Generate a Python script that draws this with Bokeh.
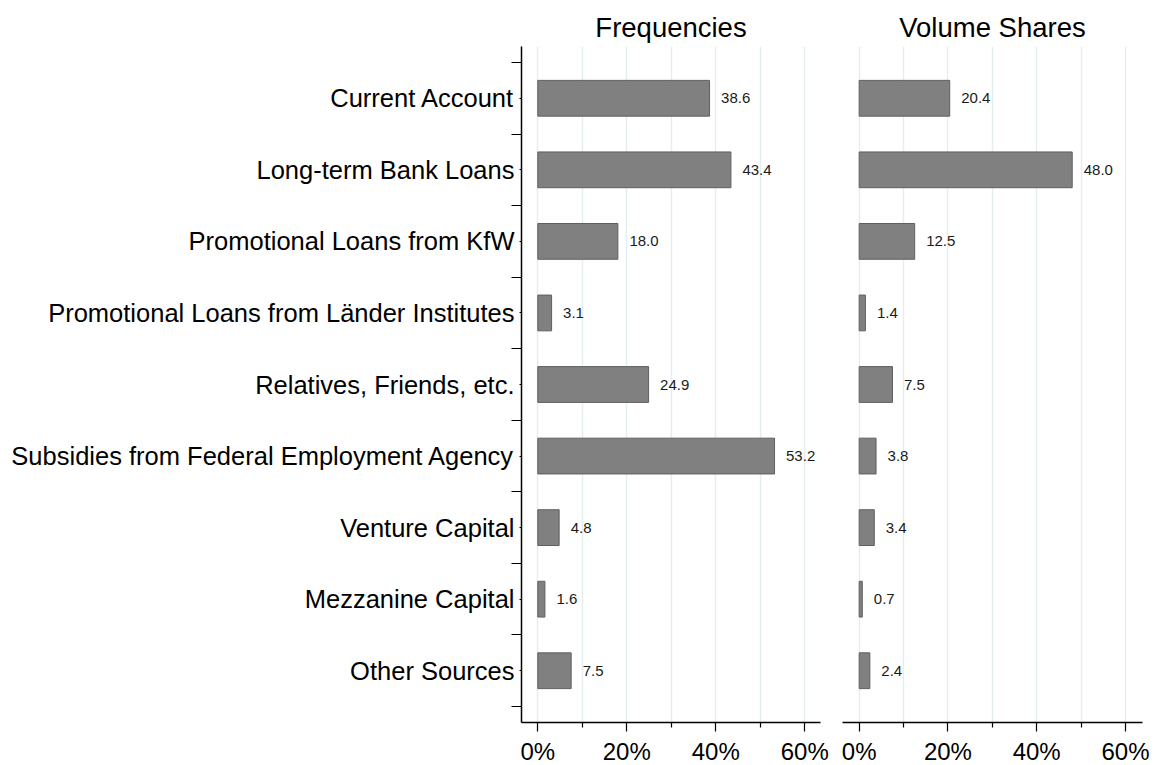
from bokeh.plotting import figure
from bokeh.models import Range1d, FixedTicker, PrintfTickFormatter, ColumnDataSource
from bokeh.layouts import row
from bokeh.embed import file_html
from bokeh.resources import INLINE

categories = [
    "Current Account",
    "Long-term Bank Loans",
    "Promotional Loans from KfW",
    "Promotional Loans from Länder Institutes",
    "Relatives, Friends, etc.",
    "Subsidies from Federal Employment Agency",
    "Venture Capital",
    "Mezzanine Capital",
    "Other Sources",
]
frequencies = [38.6, 43.4, 18.0, 3.1, 24.9, 53.2, 4.8, 1.6, 7.5]
volume_shares = [20.4, 48.0, 12.5, 1.4, 7.5, 3.8, 3.4, 0.7, 2.4]
x_ticks = [0, 20, 40, 60]
x_minor = [10, 30, 50]
grid_ticks = [0, 10, 20, 30, 40, 50, 60]

FONT = "Liberation Sans"
n = len(categories)
pos = list(range(n))


def make_panel(title, values, show_y, x_start, x_end, border_left, border_right, frame_w):
    p = figure(
        output_backend="svg", toolbar_location=None,
        frame_width=frame_w, frame_height=676,
        min_border_left=border_left, min_border_right=border_right,
        min_border_top=46, min_border_bottom=43,
        x_range=Range1d(x_start, x_end),
        y_range=Range1d(n - 1 + 0.7235, -0.7235),
    )
    p.outline_line_color = None
    p.background_fill_color = "white"
    p.border_fill_color = "white"

    p.title.text = title
    p.title.align = "center"
    p.title.text_font = FONT
    p.title.text_font_size = "27.5px"
    p.title.text_font_style = "normal"
    p.title.text_color = "black"
    p.title.standoff = 8

    src = ColumnDataSource(dict(
        y=pos, v=values, lab=["%.1f" % v for v in values]))
    p.hbar(y="y", right="v", left=0, height=0.5, source=src,
           fill_color="#808080", line_color="#5f5f5f", line_width=1)
    p.text(x="v", y="y", text="lab", source=src, x_offset=11.5,
           text_baseline="middle", text_align="left",
           text_font_size="15px", text_color="#1a1a1a",
           text_font={"value": FONT})

    # grid
    p.ygrid.visible = False
    p.xgrid.ticker = FixedTicker(ticks=grid_ticks)
    p.xgrid.grid_line_color = "#E4EEF1"
    p.xgrid.grid_line_width = 1.5

    # x axis
    xa = p.xaxis[0]
    xa.ticker = FixedTicker(ticks=x_ticks, minor_ticks=x_minor)
    xa.formatter = PrintfTickFormatter(format="%d%%")
    xa.axis_line_color = "black"
    xa.axis_line_width = 1.5
    xa.major_tick_line_color = "black"
    xa.major_tick_line_width = 1.2
    xa.major_tick_out = 9
    xa.major_tick_in = 0
    xa.minor_tick_line_color = "black"
    xa.minor_tick_line_width = 1.2
    xa.minor_tick_out = 5
    xa.minor_tick_in = 0
    xa.major_label_text_font = FONT
    xa.major_label_text_font_size = "24px"
    xa.major_label_text_color = "black"
    xa.major_label_standoff = 6

    ya = p.yaxis[0]
    if show_y:
        ya.ticker = FixedTicker(ticks=pos, minor_ticks=[i - 0.5 for i in range(n + 1)])
        ya.major_label_overrides = {i: c for i, c in enumerate(categories)}
        ya.axis_line_color = "black"
        ya.axis_line_width = 1.5
        ya.major_tick_line_color = "black"
        ya.major_tick_out = 2
        ya.major_tick_in = 0
        ya.minor_tick_line_color = "black"
        ya.minor_tick_line_width = 1.2
        ya.minor_tick_out = 10
        ya.minor_tick_in = 0
        ya.major_label_text_font = FONT
        ya.major_label_text_font_size = "25.5px"
        ya.major_label_text_color = "black"
        ya.major_label_standoff = -3
    else:
        ya.visible = False
    return p


p1 = make_panel("Frequencies", frequencies, True, -3.66, 63.53, 521, 11, 299)
p2 = make_panel("Volume Shares", volume_shares, False, -3.76, 63.84, 11, 10, 300)

layout = row(p1, p2)
open("out.html", "w").write(file_html(layout, INLINE))
